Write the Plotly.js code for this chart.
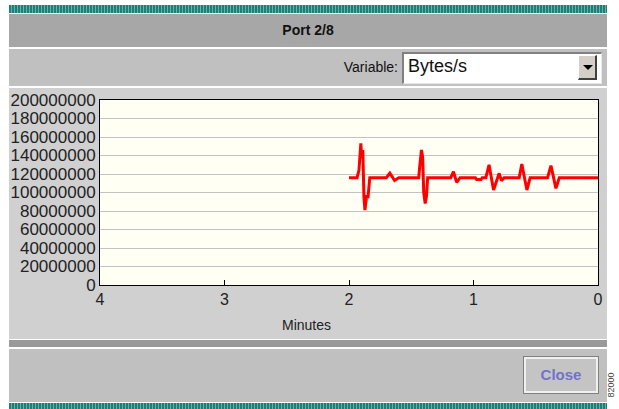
<!DOCTYPE html>
<html>
<head>
<meta charset="utf-8">
<script src="https://cdn.plot.ly/plotly-3.0.1.min.js"></script>
<style>
  html, body { margin:0; padding:0; background:#ffffff; width:619px; height:409px; overflow:hidden; font-family: Arial, "Liberation Sans", sans-serif; }
  .abs { position:absolute; }
  .teal { background: repeating-linear-gradient(90deg, #1f7f77 0px, #1f7f77 2px, #5fb3aa 2px, #5fb3aa 3px); }
  #chart { position:absolute; left:0; top:0; width:619px; height:409px; }
</style>
</head>
<body>
<div class="abs teal" style="left:9px; top:5px; width:598px; height:8px;"></div>
<div class="abs" style="left:9px; top:14px; width:598px; height:33px; background:#a7a7a7;"></div>
<div class="abs" style="left:9px; top:14px; width:598px; height:33px; line-height:33px; text-align:center; font-weight:bold; font-size:14px; color:#111;">Port 2/8</div>
<div class="abs" style="left:9px; top:49px; width:598px; height:37px; background:#c0c0c0;"></div>
<div class="abs" style="left:300px; top:59px; width:98px; text-align:right; font-size:14px; color:#111;">Variable:</div>
<div class="abs" style="left:402px; top:52px; width:197px; height:29px; background:#ffffff; border-top:2px solid #808080; border-left:2px solid #808080; border-bottom:1px solid #e8e8e8; border-right:1px solid #e8e8e8;"></div>
<div class="abs" style="left:408px; top:56px; font-size:18px; color:#111;">Bytes/s</div>
<div class="abs" style="left:578px; top:55px; width:19px; height:25px; background:#d4d0c8; border-top:1px solid #ffffff; border-left:1px solid #ffffff; border-bottom:2px solid #404040; border-right:2px solid #404040; box-sizing:border-box;"></div>
<div class="abs" style="left:583px; top:65px; width:0; height:0; border-left:5px solid transparent; border-right:5px solid transparent; border-top:5px solid #000;"></div>
<div class="abs" style="left:9px; top:88px; width:598px; height:251px; background:#d0d0d0;"></div>
<div class="abs" style="left:9px; top:340px; width:598px; height:7px; background:#9a9a9a;"></div>
<div class="abs" style="left:9px; top:349px; width:598px; height:53px; background:#c0c0c0;"></div>
<div class="abs" style="left:524px; top:357px; width:74px; height:36px; box-sizing:border-box; border:2px solid #f0f0f0; outline:1px solid #808080; background:#c4c4c4; text-align:center; line-height:32px; font-weight:bold; font-size:15px; color:#7272cc;">Close</div>
<div class="abs teal" style="left:9px; top:403px; width:598px; height:6px;"></div>
<div class="abs" style="left:591px; top:380px; width:40px; height:10px; transform:rotate(-90deg); font-size:9px; line-height:10px; color:#444; text-align:center;">82000</div>

<div id="chart"></div>
<script>
// Time axis: minutes ago (reversed axis, 4 -> 0)
const minutes = [2.00, 1.935, 1.92, 1.905, 1.897, 1.889, 1.880, 1.872, 1.858, 1.848, 1.833,
  1.700, 1.672, 1.634, 1.600,
  1.440, 1.432, 1.418, 1.408, 1.400, 1.388, 1.378, 1.368, 1.355,
  1.183, 1.161, 1.135, 1.108,
  0.985, 0.975, 0.940, 0.930,
  0.901, 0.875, 0.839, 0.794, 0.775, 0.754,
  0.633, 0.612, 0.571, 0.545,
  0.405, 0.378, 0.338, 0.311,
  0.000];
// Throughput in bytes per second
const bytesPerSec = [116000000, 116000000, 124000000, 153000000, 137000000, 146000000, 95000000, 81000000, 97000000, 94000000, 116000000,
  116000000, 121000000, 113000000, 116000000,
  116000000, 128000000, 146000000, 138000000, 100000000, 88000000, 96000000, 116000000, 116000000,
  116000000, 122500000, 111000000, 116000000,
  116000000, 114000000, 114000000, 116000000,
  116000000, 130000000, 102700000, 120700000, 112800000, 116000000,
  116000000, 130800000, 102700000, 116000000,
  116000000, 129000000, 104500000, 116000000,
  116000000];
const xTicks = [4, 3, 2, 1, 0];
const xTickText = ['4', '3', '2', '1', '0'];
const yTicks = [0, 20000000, 40000000, 60000000, 80000000, 100000000, 120000000, 140000000, 160000000, 180000000, 200000000];
const yTickText = yTicks.map(v => String(v));

const trace = {
  x: minutes, y: bytesPerSec, type: 'scatter', mode: 'lines',
  line: {color: '#ff0000', width: 3}, hoverinfo: 'skip'
};
const layout = {
  width: 619, height: 409,
  margin: {l: 100, r: 21, t: 100, b: 124, pad: 0},
  paper_bgcolor: 'rgba(0,0,0,0)',
  plot_bgcolor: '#fffff4',
  showlegend: false,
  font: {family: 'Arial, "Liberation Sans", sans-serif', color: '#222'},
  xaxis: {
    range: [4, 0], tickvals: xTicks, ticktext: xTickText,
    ticks: 'inside', ticklen: 5, tickcolor: '#000', tickwidth: 1,
    showline: true, linecolor: '#000', linewidth: 1, mirror: true,
    showgrid: false, zeroline: false,
    tickfont: {size: 16, color: '#222'}
  },
  yaxis: {
    range: [0, 200000000], tickvals: yTicks, ticktext: yTickText,
    ticks: '', showline: true, linecolor: '#000', linewidth: 1, mirror: true,
    showgrid: true, gridcolor: '#c4c4c4', gridwidth: 1, zeroline: false,
    tickfont: {size: 17, color: '#222'}
  },
  annotations: [{
    text: 'Minutes', xref: 'paper', yref: 'paper',
    x: (306 - 100) / 498, y: (285 - 325) / 185,
    xanchor: 'center', yanchor: 'middle', showarrow: false,
    font: {size: 14, color: '#222'}
  }]
};
Plotly.newPlot('chart', [trace], layout, {staticPlot: true, displayModeBar: false});
</script>
</body>
</html>
